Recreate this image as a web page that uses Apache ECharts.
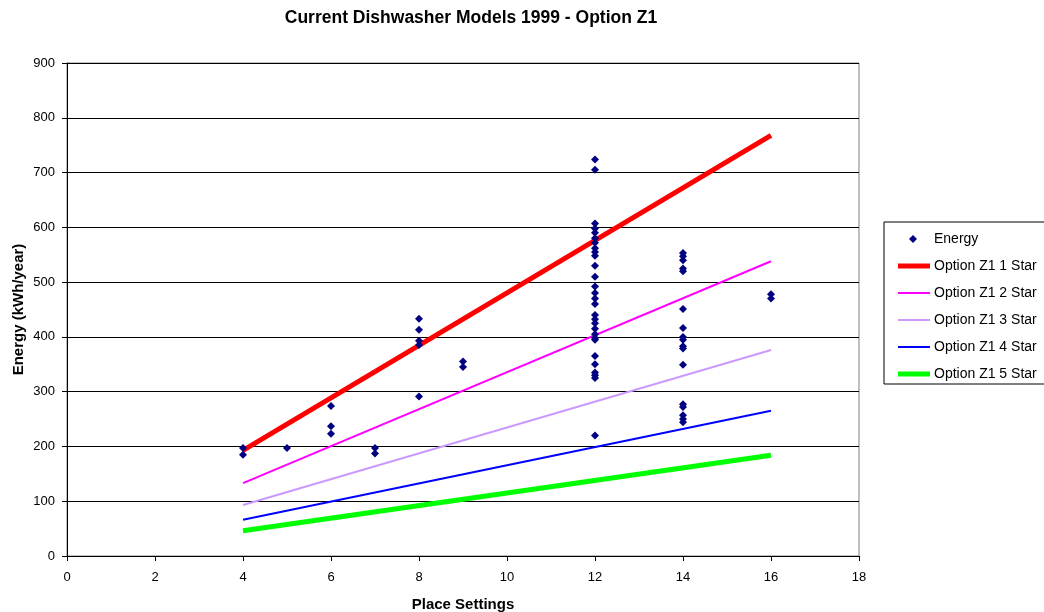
<!DOCTYPE html>
<html>
<head>
<meta charset="UTF-8">
<title>Current Dishwasher Models 1999 - Option Z1</title>
<script src="https://cdn.jsdelivr.net/npm/echarts@6/dist/echarts.min.js"></script>
<style>
body {
    margin: 0;
    padding: 0;
    background: #fff;
}
#main {
    width: 1044px;
    height: 612px;
}
</style>
</head>
<body>
<div id="main"></div>
<script>
// measured models, energy (kWh/year) grouped by place settings
var ps4 = [197, 185];
var ps5 = [197];
var ps6 = [274, 237, 223];
var ps7 = [197, 187];
var ps8 = [433, 413, 393, 385, 291];
var ps9 = [355, 345];
var ps12 = [724, 705, 607, 598, 590, 580, 572, 562, 555, 548, 530, 510, 492, 480, 470, 460,
            440, 432, 425, 415, 405, 398, 395, 365, 350, 335, 330, 325, 220];
var ps14 = [553, 547, 540, 525, 520, 451, 416, 400, 395, 383, 379, 349, 277, 272, 257, 250, 244];
var ps16 = [478, 470];

// option Z1 star lines (end points)
var lineX = [4, 16];
var star1 = [193, 768];
var star2 = [133, 538];
var star3 = [93, 376];
var star4 = [66, 265];
var star5 = [46, 184];

var groups = [[4, ps4], [5, ps5], [6, ps6], [7, ps7], [8, ps8], [9, ps9], [12, ps12], [14, ps14], [16, ps16]];
var energyData = [];
groups.forEach(function (g) {
    g[1].forEach(function (v) { energyData.push([g[0], v]); });
});

function pairs(ys) {
    return lineX.map(function (x, i) { return [x, ys[i]]; });
}

function starLine(name, ys, color, width) {
    return {
        name: name,
        type: 'line',
        data: pairs(ys),
        symbol: 'none',
        lineStyle: { color: color, width: width },
        itemStyle: { color: color },
        z: 2
    };
}

// legend icons: zero length moves at the corners keep the 32x14 box
var thickIcon = 'path://M0,0L0,0M0,4.5H32V9.5H0ZM32,14L32,14';
var thinIcon = 'path://M0,0L0,0M0,6H32V8H0ZM32,14L32,14';
var dotIcon = 'path://M0,0L0,0M15,3L19,7L15,11L11,7ZM32,14L32,14';

var chart = echarts.init(document.getElementById('main'));
var option = {
    animation: false,
    textStyle: { fontFamily: 'Liberation Sans, Arial, sans-serif' },
    title: {
        text: 'Current Dishwasher Models 1999 - Option Z1',
        left: 466,
        top: 4,
        textAlign: 'center',
        textStyle: { fontSize: 17.5, fontWeight: 'bold', color: '#000', fontFamily: 'Liberation Sans, Arial' }
    },
    grid: {
        left: 67,
        right: 185,
        top: 63,
        bottom: 56,
        outerBoundsMode: 'none',
        containLabel: false,
        show: true,
        borderColor: '#808080',
        borderWidth: 1
    },
    legend: {
        orient: 'vertical',
        left: 884,
        top: 222,
        padding: [10, 20, 3, 14],
        itemWidth: 32,
        itemHeight: 14,
        itemGap: 13,
        borderColor: '#000',
        borderWidth: 1,
        textStyle: { fontSize: 14, color: '#000', padding: [0, 0, 0, -1] },
        data: [
            { name: 'Energy', icon: dotIcon },
            { name: 'Option Z1 1 Star', icon: thickIcon },
            { name: 'Option Z1 2 Star', icon: thinIcon },
            { name: 'Option Z1 3 Star', icon: thinIcon },
            { name: 'Option Z1 4 Star', icon: thinIcon },
            { name: 'Option Z1 5 Star', icon: thickIcon }
        ]
    },
    xAxis: {
        type: 'value',
        min: 0,
        max: 18,
        interval: 2,
        name: 'Place Settings',
        nameLocation: 'middle',
        nameGap: 41,
        nameTextStyle: { fontSize: 15, fontWeight: 'bold', color: '#000' },
        axisLine: { lineStyle: { color: '#000' } },
        axisTick: { inside: false, length: 5, lineStyle: { color: '#000' } },
        axisLabel: { fontSize: 13, color: '#000', margin: 15 },
        splitLine: { show: false }
    },
    yAxis: {
        type: 'value',
        min: 0,
        max: 900,
        interval: 100,
        name: 'Energy (kWh/year)',
        nameLocation: 'middle',
        nameGap: 41,
        nameMoveOverlap: false,
        nameTextStyle: { fontSize: 15, fontWeight: 'bold', color: '#000' },
        axisLine: { show: true, lineStyle: { color: '#000' } },
        axisTick: { show: true, length: 5, lineStyle: { color: '#000' } },
        axisLabel: { fontSize: 13, color: '#000', margin: 12 },
        splitLine: { show: true, lineStyle: { color: '#000', width: 1 } }
    },
    series: [
        {
            name: 'Energy',
            type: 'scatter',
            data: energyData,
            symbol: 'diamond',
            symbolSize: 8,
            itemStyle: { color: '#000080', opacity: 1 },
            z: 3
        },
        starLine('Option Z1 1 Star', star1, '#ff0000', 5),
        starLine('Option Z1 2 Star', star2, '#ff00ff', 2),
        starLine('Option Z1 3 Star', star3, '#cc99ff', 2),
        starLine('Option Z1 4 Star', star4, '#0000ff', 2),
        starLine('Option Z1 5 Star', star5, '#00ff00', 5)
    ]
};
chart.setOption(option);
</script>
</body>
</html>
